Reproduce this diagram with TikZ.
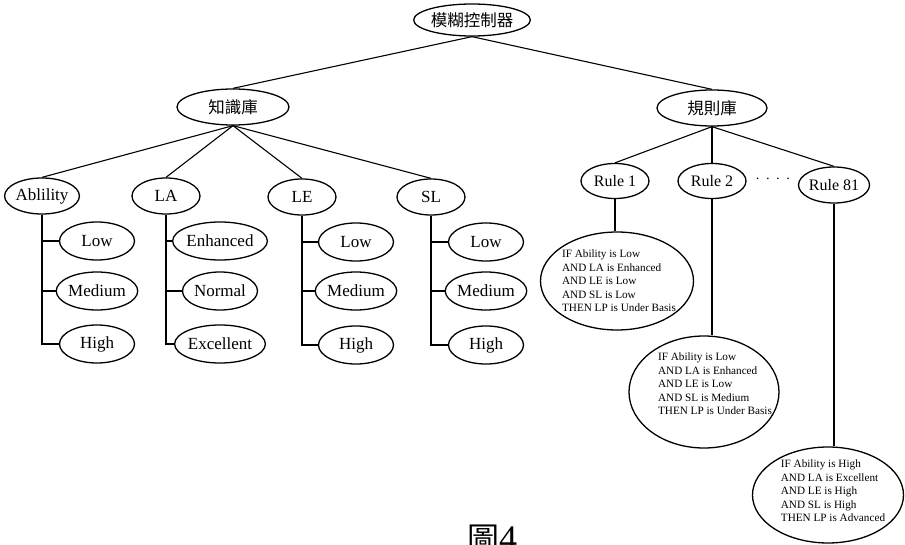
\documentclass[tikz,border=0pt]{standalone}
\usepackage{fontspec}
\setmainfont{Liberation Serif}
\newfontfamily\cjk{Noto Sans CJK TC}
\usetikzlibrary{shapes.geometric}
\tikzset{
  oval/.style={ellipse, draw, line width=1.3pt, inner sep=0pt, font=\fontsize{17}{17}\selectfont},
  cjkoval/.style={oval, font=\cjk\fontsize{16.5}{16.5}\selectfont},
  mid/.style={oval, minimum width=68pt, minimum height=36pt},
  leaf/.style={oval, minimum width=75pt, minimum height=38pt},
  rulebox/.style={oval, font=\fontsize{16}{16}\selectfont, minimum width=68pt, minimum height=35pt},
  bigoval/.style={ellipse, draw, line width=1.3pt, inner sep=0pt},
  ruletext/.style={align=left, inner sep=0pt, font=\fontsize{11.2}{13.5}\selectfont},
  conn/.style={line width=1.1pt},
}
\begin{document}
\begin{tikzpicture}[x=1pt,y=-1pt]
\useasboundingbox (0,0) rectangle (905,545);
\clip (0,0) rectangle (905,545);
% top levels
\node[cjkoval, minimum width=110pt, minimum height=32pt] (T) at (472,20) {模糊控制器};
\node[cjkoval, minimum width=112pt, minimum height=36pt] (K) at (233,107) {知識庫};
\node[cjkoval, minimum width=110pt, minimum height=36pt] (R) at (712,108) {規則庫};
\draw[conn] (T.south) -- (K.north);
\draw[conn] (T.south) -- (R.north);
% knowledge base
\node[mid, minimum width=70pt] (Ab) at (42,196) {Ablility};
\node[mid] (LA) at (166,196) {LA};
\node[mid] (LE) at (302,197) {LE};
\node[mid] (SL) at (431,197) {SL};
\foreach \n in {Ab,LA,LE,SL} \draw[conn] (K.south) -- (\n.north);
% leaves
\node[leaf] (AbL) at (97,241) {Low};
\node[leaf] (AbM) at (97,291) {Medium};
\node[leaf] (AbH) at (97,344) {High};
\node[leaf] (LAL) at (220,241) {Enhanced};
\node[leaf] (LAM) at (220,291) {Normal};
\node[leaf] (LAH) at (220,344) {Excellent};
\node[leaf] (LEL) at (356,242) {Low};
\node[leaf] (LEM) at (356,291) {Medium};
\node[leaf] (LEH) at (356,345) {High};
\node[leaf] (SLL) at (486,242) {Low};
\node[leaf] (SLM) at (486,291) {Medium};
\node[leaf] (SLH) at (486,345) {High};
\foreach \p in {Ab,LA,LE,SL} {
  \draw[conn] (\p.south) |- (\p H.west);
  \draw[conn] (\p.south |- \p L.west) -- (\p L.west);
  \draw[conn] (\p.south |- \p M.west) -- (\p M.west);
}
% rule base
\node[rulebox] (R1) at (615,181) {Rule 1};
\node[rulebox] (R2) at (712,181) {Rule 2};
\node[rulebox, minimum height=36pt] (R81) at (834,185) {Rule 81};
\node[inner sep=0pt, font=\fontsize{14}{14}\selectfont] (dots) at (773,181) {·\hspace{5.5pt}·\hspace{5.5pt}·\hspace{5.5pt}·};
\foreach \n in {R1,R2,R81} \draw[conn] (R.south) -- (\n.north);
% rule ellipses
\node[bigoval, minimum width=153pt, minimum height=98pt] (B1) at (617,281) {};
\node[ruletext] (B1t) at (619,281) {IF Ability is Low\\AND LA is Enhanced\\AND LE is Low\\AND SL is Low\\THEN LP is Under Basis};
\node[bigoval, minimum width=150pt, minimum height=112pt] (B2) at (704,392) {};
\node[ruletext] (B2t) at (715,384) {IF Ability is Low\\AND LA is Enhanced\\AND LE is Low\\AND SL is Medium\\THEN LP is Under Basis};
\node[bigoval, minimum width=151pt, minimum height=96pt] (B3) at (828,495) {};
\node[ruletext] (B3t) at (833,491) {IF Ability is High\\AND LA is Excellent\\AND LE is High\\AND SL is High\\THEN LP is Advanced};
\draw[conn] (R1.south) -- (R1 |- B1.north);
\draw[conn] (R2.south) -- (R2 |- B2.north);
\draw[conn] (R81.south) -- (R81 |- B3.north);
% caption (cut off at bottom, as in the reference)
\node[anchor=base, inner sep=0pt] (cap) at (492,550) {{\cjk\fontsize{32}{32}\selectfont 圖}{\fontsize{36}{36}\selectfont 4}};
\end{tikzpicture}
\end{document}
